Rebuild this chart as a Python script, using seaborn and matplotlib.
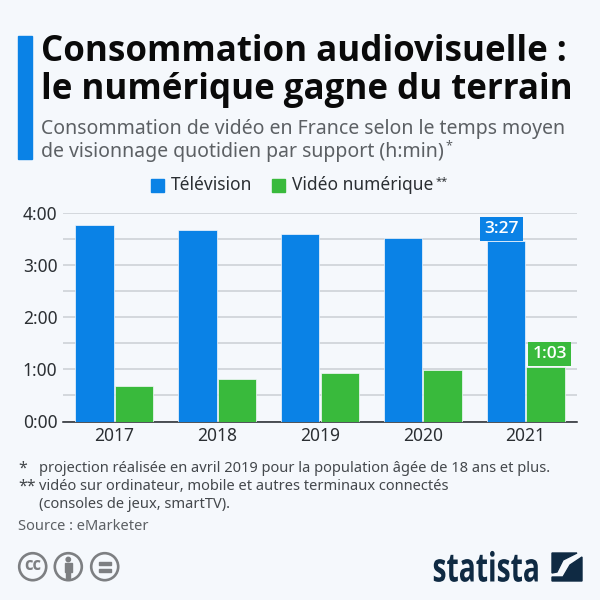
import pandas as pd
import seaborn as sns
import matplotlib.pyplot as plt
from matplotlib.patches import Circle, Polygon, Rectangle
from matplotlib.patheffects import AbstractPathEffect
from matplotlib.transforms import Affine2D

years = ["2017", "2018", "2019", "2020", "2021"]
television = [3.77, 3.67, 3.58, 3.52, 3.45]
numerique = [0.67, 0.82, 0.92, 0.99, 1.05]
y_labels = ["0:00", "1:00", "2:00", "3:00", "4:00"]
series_names = ["Télévision", "Vidéo numérique"]
bar_labels = ["3:27", "1:03"]

BG = "#f5f8fc"
BLUE = "#0a82e6"
GREEN = "#39ba3c"
NAVY = "#0f2a43"
GREY = "#5c6064"
DARK = "#2b2f33"
ICON = "#7d7f82"

sns.set_theme(style="white")
plt.rcParams["font.family"] = ["Noto Sans", "DejaVu Sans"]

df = pd.DataFrame({
    "annee": years * 2,
    "heures": television + numerique,
    "support": [series_names[0]] * 5 + [series_names[1]] * 5,
})

fig = plt.figure(figsize=(6, 6), dpi=100, facecolor=BG)
ax = fig.add_axes([63 / 600, 1 - 421.5 / 600, 514 / 600, 209 / 600], facecolor=BG)

sns.barplot(data=df, x="annee", y="heures", hue="support", palette=[BLUE, GREEN],
            width=0.77, gap=0.03, saturation=1, ax=ax, zorder=3)

ax.set_xlim(-0.5, 4.5)
ax.set_ylim(0, 4)
ax.set_xlabel("")
ax.set_ylabel("")
ax.set_yticks(range(5), y_labels)
ax.set_yticks([0.5, 1.5, 2.5, 3.5], minor=True)
ax.grid(axis="y", which="both", color="#cbcfd4", lw=1.1, zorder=0)
ax.set_axisbelow(True)
ax.tick_params(axis="both", which="both", length=0, labelsize=12.5, labelcolor=DARK)
ax.tick_params(axis="x", pad=4)
ax.tick_params(axis="y", pad=4)
sns.despine(ax=ax, left=True)
ax.spines["bottom"].set_color("#20242a")
ax.spines["bottom"].set_linewidth(1.1)

# keep a thin halo round the bars, the grid stops just short of them
for p in ax.patches:
    p.set_edgecolor(BG)
    p.set_linewidth(0.5)

ax.legend().remove()

# value boxes on the last year
tv_bar, num_bar = ax.containers[0][4], ax.containers[1][4]
ax.annotate(bar_labels[0], xy=(tv_bar.get_x() + tv_bar.get_width(), television[4]),
            xytext=(-17, 3.2), textcoords="offset points", ha="center", va="bottom",
            color="white", fontsize=12.5, fontweight="semibold", family="Open Sans", zorder=5,
            bbox=dict(boxstyle="square,pad=0.24", fc=BLUE, ec="none"))
ax.annotate(bar_labels[1], xy=(num_bar.get_x(), numerique[4]),
            xytext=(17, 3.2), textcoords="offset points", ha="center", va="bottom",
            color="white", fontsize=12.5, fontweight="semibold", family="Open Sans", zorder=5,
            bbox=dict(boxstyle="square,pad=0.24", fc=GREEN, ec="none"))


def put(px, py, s, **kw):
    fig.text(px / 600, 1 - py / 600, s, va="center", **kw)


# header
fig.add_artist(Rectangle((18 / 600, 1 - 159 / 600), 14 / 600, 123 / 600, color=BLUE,
                         transform=fig.transFigure))
put(41, 52, "Consommation audiovisuelle :", fontsize=25.1, fontweight="bold",
    family="Open Sans", color="#0a0a0a")
put(41, 90, "le numérique gagne du terrain", fontsize=25.1, fontweight="bold",
    family="Open Sans", color="#0a0a0a")
put(41, 129, "Consommation de vidéo en France selon le temps moyen", fontsize=14, color=GREY)
put(41, 152, "de visionnage quotidien par support (h:min)", fontsize=14, color=GREY)
put(445, 146, "*", fontsize=9, color=GREY)

# legend
logo_ax = fig.add_axes([0, 0, 1, 1], facecolor="none")
logo_ax.set_xlim(0, 600)
logo_ax.set_ylim(600, 0)
logo_ax.axis("off")
logo_ax.add_patch(Rectangle((151, 179), 12.5, 12.5, color=BLUE))
logo_ax.add_patch(Rectangle((272, 179), 12.5, 12.5, color=GREEN))
put(171, 185, series_names[0], fontsize=12.5, color=DARK)
put(292, 185, series_names[1], fontsize=12.5, color=DARK)
put(436, 182, "**", fontsize=8, color=DARK)

# notes
put(18, 469, "*", fontsize=11.5, color="#44484c")
put(39, 469, "projection réalisée en avril 2019 pour la population âgée de 18 ans et plus.",
    fontsize=10.55, color="#44484c")
put(18, 487, "**", fontsize=11.5, color="#44484c")
put(39, 487, "vidéo sur ordinateur, mobile et autres terminaux connectés", fontsize=10.55, color="#44484c")
put(39, 505, "(consoles de jeux, smartTV).", fontsize=10.55, color="#44484c")
put(18, 526, "Source : eMarketer", fontsize=10.55, color=GREY)

# licence icons
for cx in [32.7, 68.3, 104.7]:
    logo_ax.add_patch(Circle((cx, 566.7), 13.5, fc="none", ec=ICON, lw=1.9))
logo_ax.text(32.7, 565.5, "cc", ha="center", va="center", fontsize=12, fontweight="bold",
             family="Open Sans", color=ICON)
logo_ax.add_patch(Circle((68.3, 559.5), 2.2, color=ICON))
logo_ax.add_patch(Rectangle((65, 563), 6.6, 9, color=ICON))
logo_ax.add_patch(Rectangle((66.3, 572), 4, 6, color=ICON))
logo_ax.add_patch(Rectangle((98.5, 562), 12.5, 3, color=ICON))
logo_ax.add_patch(Rectangle((98.5, 568.5), 12.5, 3, color=ICON))


class Squeeze(AbstractPathEffect):
    # narrows the wordmark round its left edge, no condensed face is installed
    def __init__(self, x0, factor):
        super().__init__()
        self.x0, self.factor = x0, factor

    def draw_path(self, renderer, gc, tpath, affine, rgbFace=None):
        squeeze = Affine2D().translate(-self.x0, 0).scale(self.factor, 1).translate(self.x0, 0)
        renderer.draw_path(gc, tpath, affine + squeeze, rgbFace)


# statista mark
word = logo_ax.text(432.5, 581.5, "statista", ha="left", va="baseline", fontsize=29, fontweight="bold",
                    color=NAVY, family="Open Sans")
word.set_path_effects([Squeeze(432.5, 0.7)])
logo_ax.add_patch(Polygon([(552, 553), (577, 553), (563, 560), (557, 572), (552, 573)], color=NAVY))
logo_ax.add_patch(Polygon([(582, 557), (570, 565), (563, 577), (552, 577), (552, 581), (582, 581)], color=NAVY))

fig.savefig("out.png", dpi=100, facecolor=BG)
